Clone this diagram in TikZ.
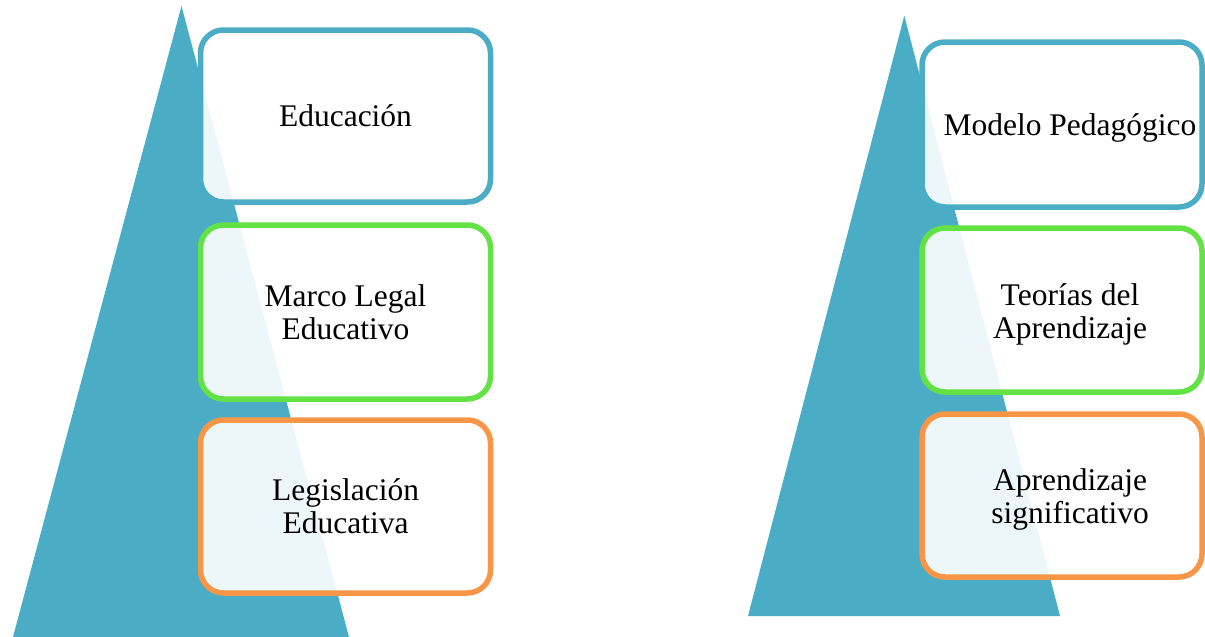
\documentclass[tikz,border=0pt]{standalone}
\usepackage{fontspec}
\setmainfont{Liberation Serif}
\definecolor{aqua}{RGB}{75,172,198}
\definecolor{lgreen}{RGB}{99,226,70}
\definecolor{lorange}{RGB}{247,150,70}
\begin{document}
\begin{tikzpicture}[x=1pt,y=-1pt,
  card/.style={draw, line width=5.5pt, rounded corners=23pt, fill=white, fill opacity=0.9, text opacity=1,
    text=black, align=center, inner sep=0pt,
    font=\fontsize{31.5}{33}\selectfont},
  label text/.style={text=black, align=center, inner sep=0pt, font=\fontsize{31.5}{33}\selectfont},
  tri/.style={fill=aqua, draw=none}]
\useasboundingbox (0,0) rectangle (1205,637);
% left pyramid
\fill[tri] (181.5,6) -- (349,637) -- (13,637) -- cycle;
\node[card, draw=aqua, minimum width=290pt, minimum height=172pt] (e1) at (345.5,116) {Educación};
\node[card, draw=lgreen, minimum width=290pt, minimum height=174pt] (e2) at (345.5,312) {Marco Legal\\Educativo};
\node[card, draw=lorange, minimum width=290pt, minimum height=173pt] (e3) at (345.5,506.5) {Legislación\\Educativa};
% right pyramid
\fill[tri] (904.3,15.7) -- (1060,616) -- (748,616) -- cycle;
\node[card, draw=aqua, minimum width=280pt, minimum height=165pt] (m1) at (1062,124.5) {};
\node[card, draw=lgreen, minimum width=280pt, minimum height=164pt] (m2) at (1062,310) {};
\node[card, draw=lorange, minimum width=280pt, minimum height=163pt] (m3) at (1062,495.5) {};
\node[label text] (m1t) at (1070,128) {Modelo Pedagógico};
\node[label text] (m2t) at (1070,314) {Teorías del\\Aprendizaje};
\node[label text] (m3t) at (1070,499.5) {Aprendizaje\\significativo};
\end{tikzpicture}
\end{document}
